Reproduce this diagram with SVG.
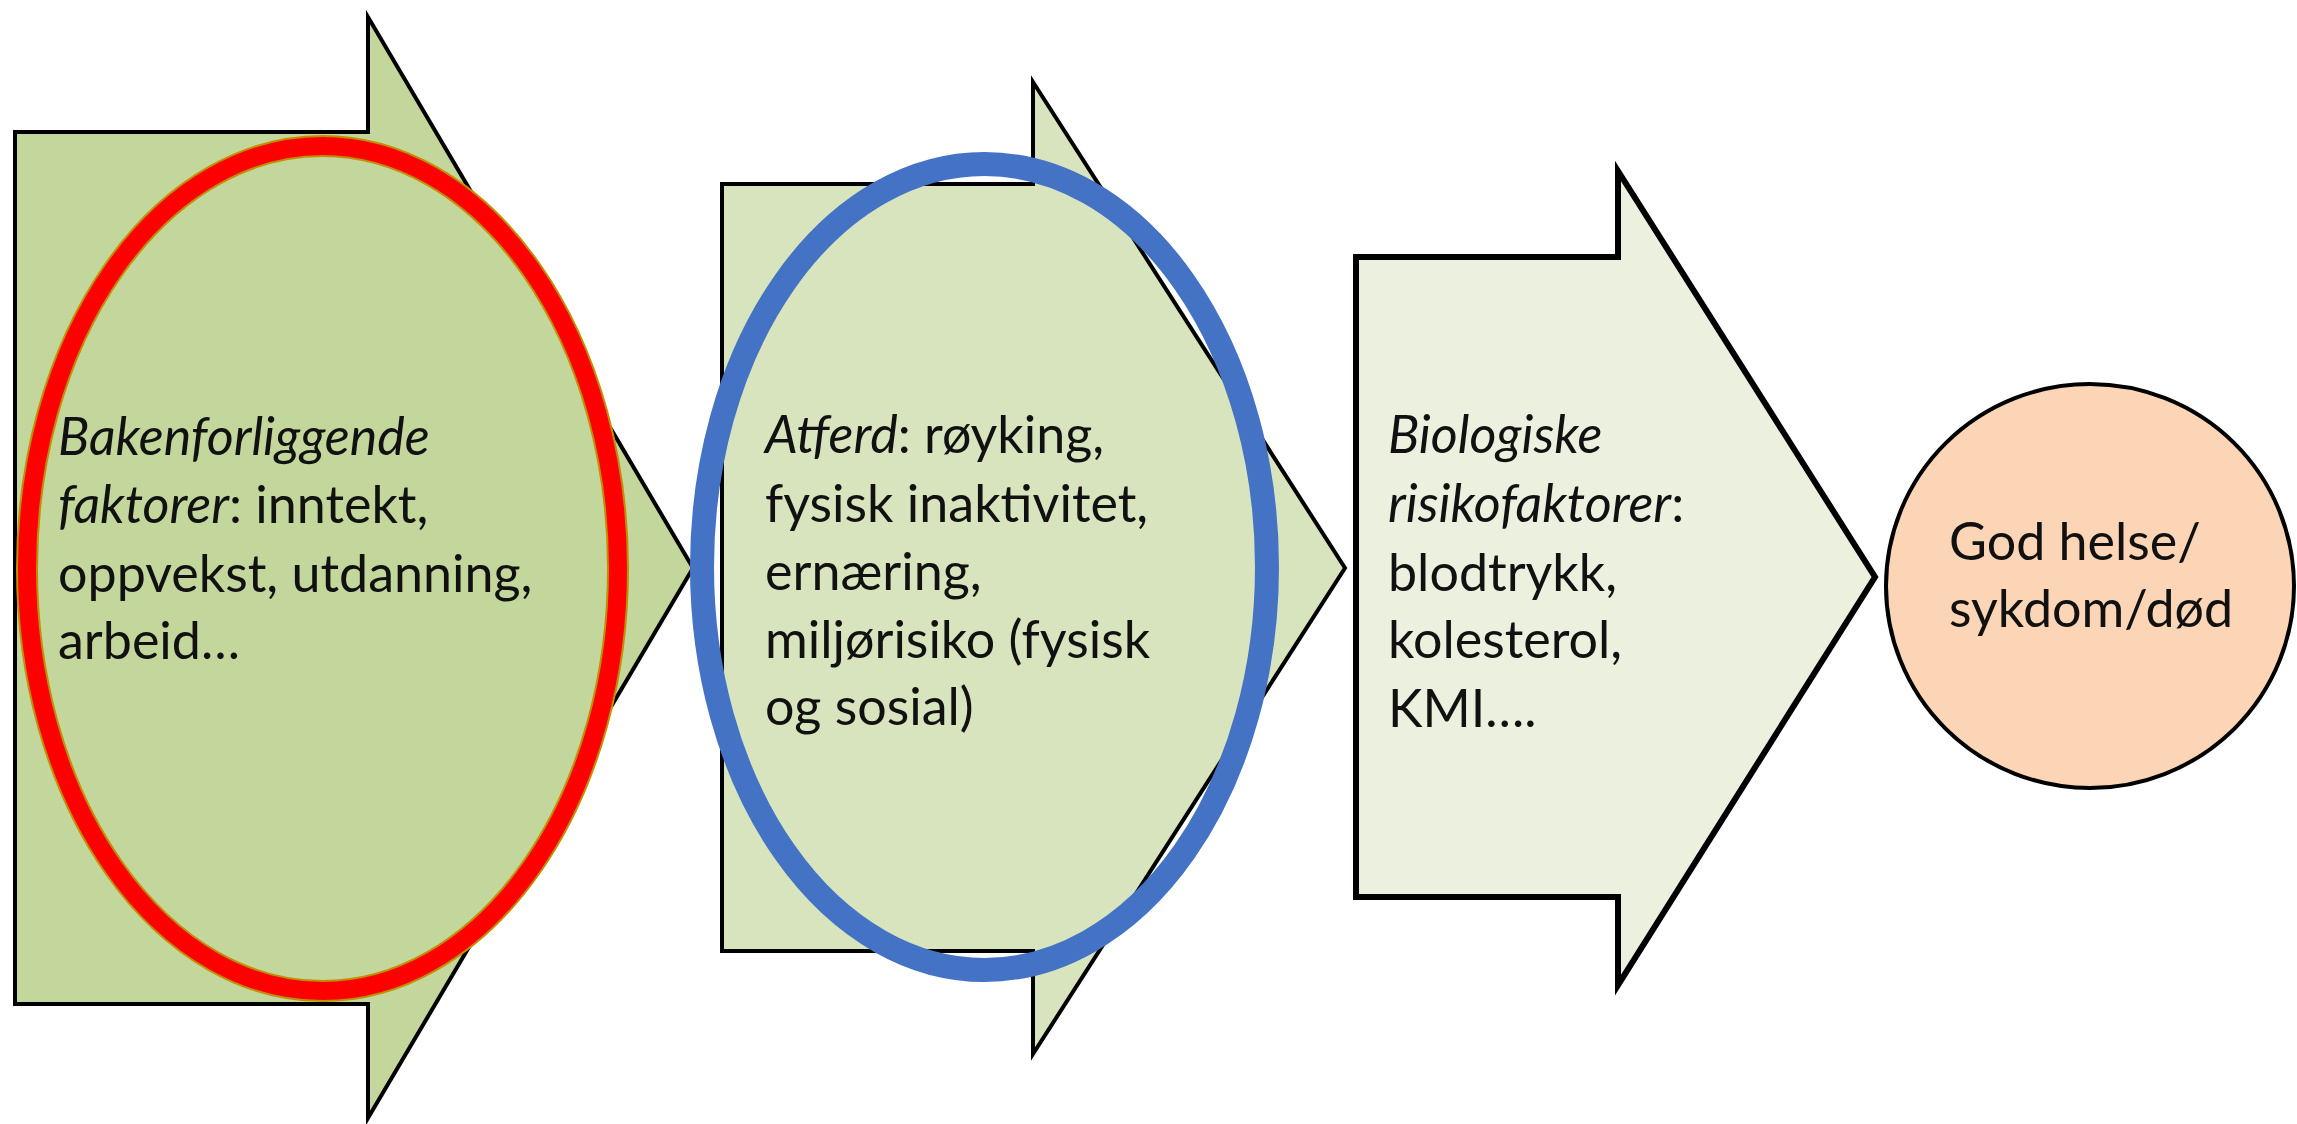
<svg xmlns="http://www.w3.org/2000/svg" width="2297" height="1124" viewBox="0 0 2297 1124">
<style>
.arrow{stroke:#000;stroke-width:4;stroke-linejoin:miter}
.t{font-family:Lato,"Open Sans","Liberation Sans",sans-serif;font-size:52px;fill:#111}
.i{font-style:italic}
</style>
<rect width="2297" height="1124" fill="#fff"/>
<g id="node-bakenforliggende">
<path class="arrow" fill="#C3D69B" d="M15,132 H368 V17 L693,568 L368,1118 V1004 H15 Z"/>
<ellipse cx="322.5" cy="568.5" rx="295.5" ry="422.5" fill="#C3D69B" stroke="#BF9000" stroke-width="22"/>
<ellipse cx="322.5" cy="568.5" rx="295.5" ry="422.5" fill="none" stroke="#FF0000" stroke-width="18"/>
<text class="t" x="58" y="455"><tspan class="i">Bakenforliggende</tspan></text>
<text class="t" x="58" y="523"><tspan class="i">faktorer</tspan>: inntekt,</text>
<text class="t" x="58" y="592">oppvekst, utdanning,</text>
<text class="t" x="58" y="659">arbeid…</text>
</g>
<g id="node-atferd">
<path class="arrow" fill="#D7E4BD" d="M722,184 H1033 V82 L1345,568 L1033,1054 V951 H722 Z"/>
<ellipse cx="984.5" cy="567" rx="282.5" ry="403" fill="none" stroke="#4472C4" stroke-width="24"/>
<text class="t" x="765" y="453"><tspan class="i">Atferd</tspan>: røyking,</text>
<text class="t" x="765" y="522">fysisk inaktivitet,</text>
<text class="t" x="765" y="590">ernæring,</text>
<text class="t" x="765" y="658">miljørisiko (fysisk</text>
<text class="t" x="765" y="725">og sosial)</text>
</g>
<g id="node-biologiske">
<path class="arrow" fill="#EBF1DE" style="stroke-width:6" d="M1356,257 H1618 V171 L1875,577 L1618,985 V897 H1356 Z"/>
<text class="t" x="1388" y="453"><tspan class="i">Biologiske</tspan></text>
<text class="t" x="1388" y="522"><tspan class="i">risikofaktorer</tspan>:</text>
<text class="t" x="1388" y="591">blodtrykk,</text>
<text class="t" x="1388" y="658">kolesterol,</text>
<text class="t" x="1388" y="727">KMI….</text>
</g>
<g id="node-helse">
<ellipse cx="2090" cy="586" rx="204" ry="202" fill="#FBD5B5" stroke="#000" stroke-width="4"/>
<text class="t" x="1949" y="560">God helse/</text>
<text class="t" x="1949" y="627">sykdom/død</text>
</g>
<g id="connectors"></g>
</svg>
